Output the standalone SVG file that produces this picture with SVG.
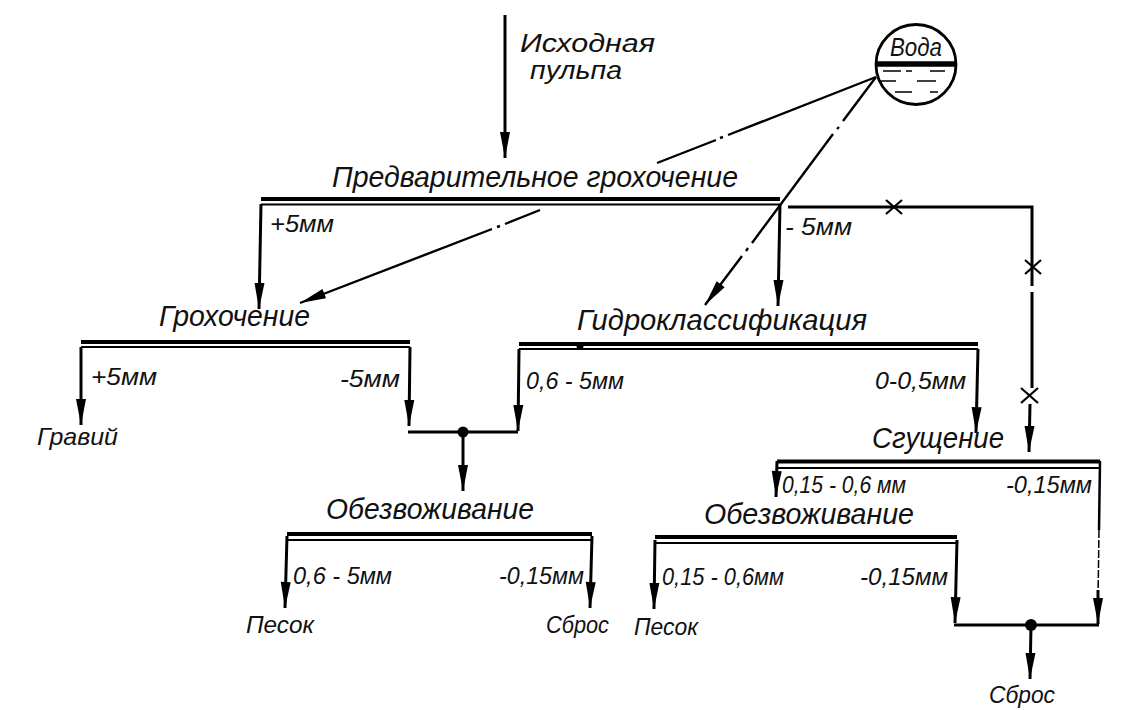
<svg xmlns="http://www.w3.org/2000/svg" width="1128" height="710" viewBox="0 0 1128 710">
<style>
text{font-family:"Liberation Sans",Arial,sans-serif;font-style:italic;fill:#111;font-size:30px}
text.s{font-size:24px}
text.v{font-size:26px}
text.o{font-size:26px}
.bar{fill:none;stroke:#000;stroke-width:2}
.top{stroke:#000;stroke-width:4;fill:none}
.c{fill:none;stroke:#000;stroke-width:3}
.f{marker-end:url(#a)}
.dd{fill:none;stroke:#000;stroke-width:2.4}
.x{fill:none;stroke:#000;stroke-width:2.2}
</style>
<defs>
<marker id="a" markerUnits="userSpaceOnUse" markerWidth="28" markerHeight="12" refX="26" refY="6" orient="auto" overflow="visible"><path d="M0 1L26 6L0 11Z" fill="#000"/></marker>
</defs>
<rect width="1128" height="710" fill="#fff"/>
<g id="connectors">
<path class="c f" d="M505 15V158"/>
<path class="c f" d="M261 204L259 309"/>
<path class="c f" d="M780 204L778 306"/>
<path class="c" d="M788 207H1032V268"/>
<path class="c" d="M1032 268V286M1032 292V388"/>
<path class="c f" d="M1030 404L1029 452"/>
<path class="dd" d="M876 77L728 135M723 137L720 138M716 140L657 163"/>
<path class="dd f" d="M540 210L505 224M500 226L497 227M492 229L300 303"/>
<path class="dd f" d="M876 77L843 121M839 127L837 129M833 134L752 243M748 248L746 251M742 256L705 305"/>
<path class="c f" d="M81 347L81 425"/>
<path class="c f" d="M410 347L409 426"/>
<path class="c" d="M408 432H518"/>
<path class="c f" d="M519 349L518 431"/>
<circle cx="463" cy="432" r="5.500" fill="#000"/>
<path class="c f" d="M463 432V491"/>
<path class="c f" d="M978 349L976 433"/>
<path class="c f" d="M777 461L776 497"/>
<path d="M1100 461L1099 530" fill="none" stroke="#000" stroke-width="2.500"/>
<path d="M1099 530L1098 600" fill="none" stroke="#000" stroke-width="1.500" stroke-dasharray="8 2"/>
<path class="c f" d="M1098 590L1098 624"/>
<path class="c f" d="M957 540L955 623"/>
<path class="c" d="M954 625H1099"/>
<circle cx="1031" cy="625" r="6" fill="#000"/>
<path class="c f" d="M1031 625L1030 679"/>
<path class="c f" d="M287 536L285 608"/>
<path class="c f" d="M592 536L590 608"/>
<path class="c f" d="M655 540L654 609"/>
<path class="x" d="M886 200L902 214M902 200L886 214"/>
<path class="x" d="M1025 260L1041 274M1041 260L1025 274"/>
<path class="x" d="M1021 388L1038 403M1038 388L1021 403"/>
</g>
<g id="source"><text class="o" x="520" y="52" textLength="135" lengthAdjust="spacingAndGlyphs">Исходная</text><text class="o" x="530" y="79" textLength="92" lengthAdjust="spacingAndGlyphs">пульпа</text></g>
<g id="water">
<circle cx="916" cy="64.500" r="40" fill="none" stroke="#000" stroke-width="2.800"/>
<path d="M875 64H957" stroke="#000" stroke-width="5.500"/>
<path d="M883 71H901M906 71H912M930 71H945M880 81H896M917 81H936M895 92H912M930 92H938" stroke="#000" stroke-width="1.400" fill="none"/>
<text class="v" x="890" y="56" textLength="52" lengthAdjust="spacingAndGlyphs">Вода</text>
</g>
<g id="screen1"><text x="332" y="187" textLength="406" lengthAdjust="spacingAndGlyphs">Предварительное грохочение</text>
<path class="top" d="M261 199H780"/><path class="bar" d="M261 204.500H780"/>
<text class="s" x="270" y="232" textLength="64" lengthAdjust="spacingAndGlyphs">+5мм</text>
<text class="s" x="785" y="235" textLength="67" lengthAdjust="spacingAndGlyphs">- 5мм</text></g>
<g id="screen2"><text x="159" y="326" textLength="151" lengthAdjust="spacingAndGlyphs">Грохочение</text>
<path class="top" d="M81 342H410"/><path class="bar" d="M81 347H410"/>
<text class="s" x="91" y="385" textLength="66" lengthAdjust="spacingAndGlyphs">+5мм</text>
<text class="s" x="340" y="387" textLength="60" lengthAdjust="spacingAndGlyphs">-5мм</text>
<text x="37" y="445" class="s" textLength="81" lengthAdjust="spacingAndGlyphs">Гравий</text></g>
<g id="hydro"><text x="577" y="330" textLength="290" lengthAdjust="spacingAndGlyphs">Гидроклассификация</text>
<path class="top" d="M519 344H978"/><path class="bar" d="M519 349H978"/>
<circle cx="580" cy="346" r="3.500" fill="#000"/>
<text class="s" x="526" y="389" textLength="98" lengthAdjust="spacingAndGlyphs">0,6 - 5мм</text>
<text class="s" x="875" y="389" textLength="91" lengthAdjust="spacingAndGlyphs">0-0,5мм</text></g>
<g id="thick"><text x="872" y="448" textLength="132" lengthAdjust="spacingAndGlyphs">Сгущение</text>
<path class="top" d="M777 461.500H1100"/><path class="bar" d="M777 468H1100"/>
<text class="s" x="782" y="493" textLength="124" lengthAdjust="spacingAndGlyphs">0,15 - 0,6 мм</text>
<text class="s" x="1006" y="493" textLength="86" lengthAdjust="spacingAndGlyphs">-0,15мм</text></g>
<g id="dewater1"><text x="326" y="519" textLength="208" lengthAdjust="spacingAndGlyphs">Обезвоживание</text>
<path class="top" d="M287 534H592"/><path class="bar" d="M287 540H592"/>
<text class="s" x="293" y="584" textLength="99" lengthAdjust="spacingAndGlyphs">0,6 - 5мм</text>
<text class="s" x="499" y="584" textLength="85" lengthAdjust="spacingAndGlyphs">-0,15мм</text>
<text class="s" x="246" y="633" textLength="68" lengthAdjust="spacingAndGlyphs">Песок</text>
<text class="s" x="546" y="633" textLength="63" lengthAdjust="spacingAndGlyphs">Сброс</text></g>
<g id="dewater2"><text x="704" y="524" textLength="210" lengthAdjust="spacingAndGlyphs">Обезвоживание</text>
<path class="top" d="M655 537H957"/><path class="bar" d="M655 543H957"/>
<text class="s" x="662" y="585" textLength="122" lengthAdjust="spacingAndGlyphs">0,15 - 0,6мм</text>
<text class="s" x="860" y="585" textLength="88" lengthAdjust="spacingAndGlyphs">-0,15мм</text>
<text class="s" x="634" y="635" textLength="64" lengthAdjust="spacingAndGlyphs">Песок</text>
<text class="s" x="989" y="703" textLength="66" lengthAdjust="spacingAndGlyphs">Сброс</text></g>
</svg>
